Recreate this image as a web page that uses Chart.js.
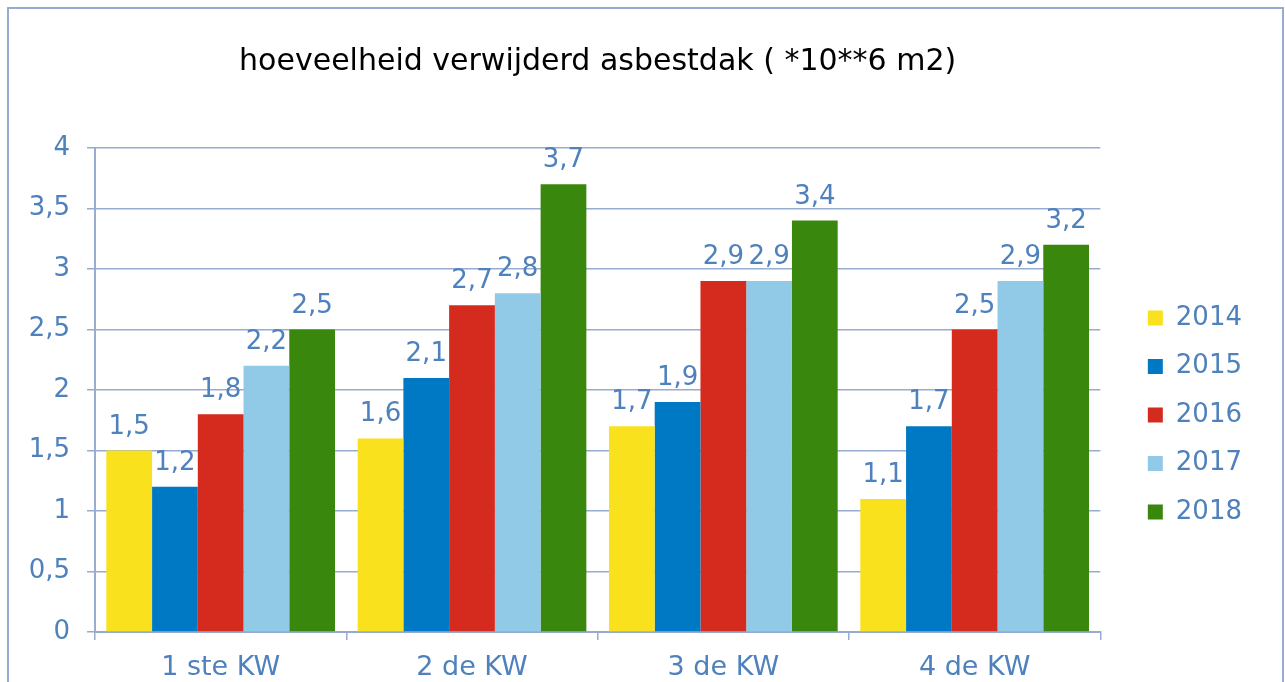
<!DOCTYPE html>
<html>
<head>
<meta charset="utf-8">
<script src="https://cdn.jsdelivr.net/npm/chart.js@4"></script>
<style>
  html, body { margin: 0; padding: 0; background: #fff; overflow: hidden; }
  #wrap { position: relative; width: 1285px; height: 682px; }
  #grafiek { position: absolute; left: 0; top: 0; }
  #kader { position: absolute; left: 7px; top: 7px; width: 1273px; height: 700px; border: 2px solid #98abd0; pointer-events: none; }
</style>
</head>
<body>
<div id="wrap">
  <canvas id="grafiek" width="1285" height="682"></canvas>
  <div id="kader"></div>
</div>
<script>
const titel = 'hoeveelheid verwijderd asbestdak ( *10**6 m2)';
const kwartalen = ['1 ste KW', '2 de KW', '3 de KW', '4 de KW'];
const jaren = ['2014', '2015', '2016', '2017', '2018'];
const v2014 = [1.5, 1.6, 1.7, 1.1];
const v2015 = [1.2, 2.1, 1.9, 1.7];
const v2016 = [1.8, 2.7, 2.9, 2.5];
const v2017 = [2.2, 2.8, 2.9, 2.9];
const v2018 = [2.5, 3.7, 3.4, 3.2];
const kleuren = ['#f9e11e', '#0079c5', '#d52b1e', '#90cae7', '#39870c'];

const tekstKleur = '#4f81bd';
const lijnKleur = '#98abd0';
const fnt = 'Verdana, "DejaVu Sans", sans-serif';
const komma = v => String(v).replace('.', ',');

// titel gecentreerd boven het plotgebied, zoals in Excel
const titelPlugin = {
  id: 'titelPlugin',
  afterDraw(chart) {
    const { ctx, chartArea } = chart;
    ctx.save();
    ctx.font = '30px ' + fnt;
    ctx.fillStyle = '#000';
    ctx.textAlign = 'center'; ctx.textBaseline = 'middle';
    ctx.fillText(titel, (chartArea.left + chartArea.right) / 2, 62);
    ctx.restore();
  }
};

// legenda iets verder van het plotgebied af
const legendaPlugin = {
  id: 'legendaPlugin',
  afterLayout(chart) {
    if (chart.legend) { chart.legend.left += 25; chart.legend.right += 25; }
  }
};

// waarden boven de staven
const labelPlugin = {
  id: 'labelPlugin',
  afterDatasetsDraw(chart) {
    const { ctx } = chart;
    ctx.save();
    ctx.font = '26px ' + fnt;
    ctx.fillStyle = tekstKleur;
    ctx.textAlign = 'center'; ctx.textBaseline = 'alphabetic';
    chart.data.datasets.forEach((ds, i) => {
      chart.getDatasetMeta(i).data.forEach((bar, j) => {
        ctx.fillText(komma(ds.data[j]), bar.x, bar.y - 17);
      });
    });
    ctx.restore();
  }
};

const reeksen = [v2014, v2015, v2016, v2017, v2018];

new Chart(document.getElementById('grafiek'), {
  type: 'bar',
  data: {
    labels: kwartalen,
    datasets: jaren.map((j, i) => ({ label: j, data: reeksen[i], backgroundColor: kleuren[i], borderWidth: 0, categoryPercentage: 0.91, barPercentage: 1 }))
  },
  options: {
    responsive: false,
    animation: false,
    layout: { padding: { top: 148, right: 58, left: 0, bottom: 0 } },
    plugins: {
      title: { display: false },
      tooltip: { enabled: false },
      legend: {
        position: 'right',
        labels: { font: { family: fnt, size: 26 }, color: tekstKleur, boxWidth: 15, boxHeight: 15, padding: 22.5 }
      }
    },
    scales: {
      x: {
        grid: { drawOnChartArea: false, tickLength: 8, color: lijnKleur, lineWidth: 1.5 },
        border: { color: lijnKleur, width: 2 },
        ticks: { font: { family: fnt, size: 27 }, color: tekstKleur, padding: 12 },
        afterFit(s) { s.height = 50; }
      },
      y: {
        min: 0, max: 4,
        grid: { tickLength: 8, color: lijnKleur, lineWidth: 1.5 },
        border: { color: lijnKleur, width: 2 },
        ticks: { stepSize: 0.5, font: { family: fnt, size: 26 }, color: tekstKleur, padding: 17, callback: v => komma(v) },
        afterFit(s) { s.width = 95; }
      }
    }
  },
  plugins: [titelPlugin, legendaPlugin, labelPlugin]
});
</script>
</body>
</html>
